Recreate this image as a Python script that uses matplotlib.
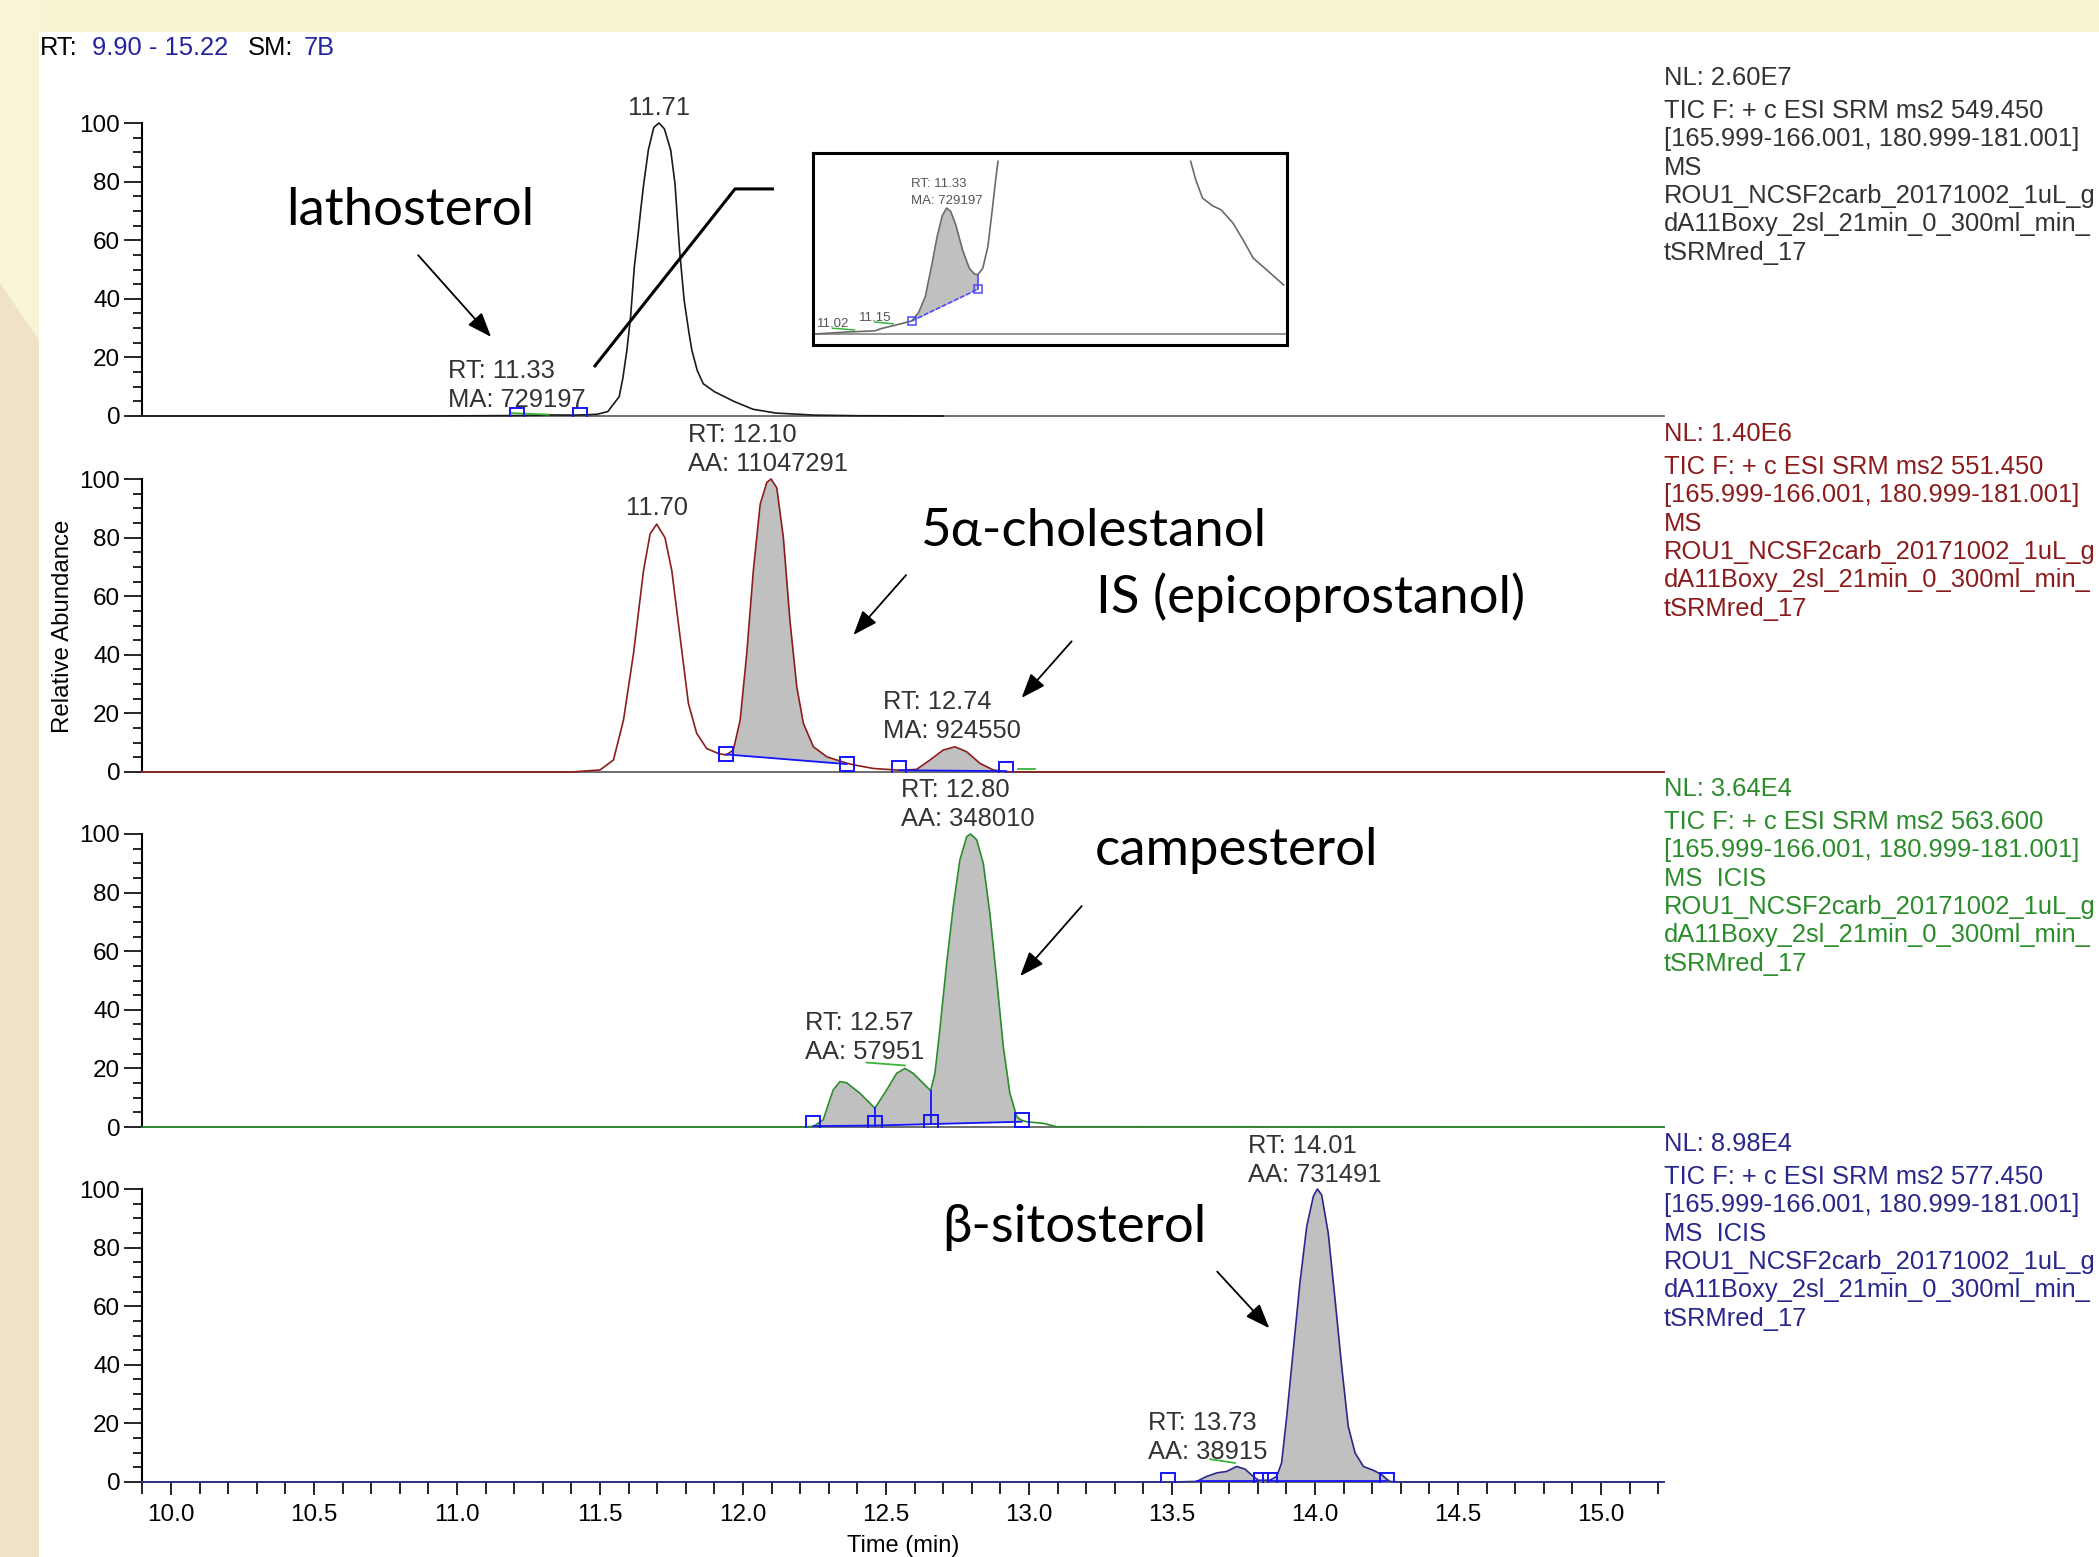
import numpy as np
import matplotlib.pyplot as plt
from matplotlib.patches import Polygon, Rectangle
from matplotlib.ticker import MultipleLocator, FormatStrFormatter

plt.rcParams['font.family'] = ['Liberation Sans', 'DejaVu Sans']
BIG_FONT = ['Lato', 'Open Sans', 'DejaVu Sans']

# ---- data (time in min, relative abundance in %) ----
x_range = (9.90, 15.22)
smoothing = '7B'

# lathosterol channel, m/z 549.450
lath_time = [9.90, 10.90, 11.00, 11.10, 11.20, 11.30, 11.33, 11.40, 11.45, 11.49, 11.527, 11.567,
             11.58, 11.594, 11.607, 11.62, 11.632, 11.643, 11.653, 11.669, 11.688, 11.706, 11.725,
             11.747, 11.762, 11.778, 11.794, 11.81, 11.821, 11.84, 11.861, 11.90, 11.97, 12.035,
             12.115, 12.25, 12.40, 12.70]
lath_int = [0, 0, 0.05, 0.1, 0.15, 0.3, 0.35, 0.3, 0.4, 0.6, 1.5, 6.6,
            13, 22.5, 34, 51, 61, 71, 79.4, 90.8, 98.5, 100, 98,
            90.8, 79.4, 56.7, 39.6, 29, 22.5, 15.5, 11, 8.3, 4.9, 2.3,
            1.0, 0.3, 0.1, 0]

# 5a-cholestanol / IS channel, m/z 551.450
chol_time = [9.90, 11.40, 11.50, 11.547, 11.582, 11.617, 11.652, 11.675, 11.698, 11.727,
             11.751, 11.78, 11.809, 11.838, 11.873, 11.914, 11.941, 11.966, 11.99, 12.013,
             12.036, 12.06, 12.083, 12.098, 12.118, 12.141, 12.164, 12.188, 12.211, 12.246,
             12.293, 12.362, 12.40, 12.456, 12.502, 12.547, 12.607, 12.654, 12.70, 12.741,
             12.782, 12.829, 12.875, 12.92, 13.0, 15.22]
chol_int = [0, 0, 0.7, 4.1, 17.7, 40.4, 68.7, 81.2, 84.6, 80,
            68.7, 46, 23.4, 13.2, 8.0, 6.3, 5.8, 7.5, 17.7, 40.4,
            68.7, 91.4, 98.8, 100, 97, 80, 51.7, 29, 16.6, 8.6,
            5.2, 3.0, 2.2, 1.2, 0.9, 0.6, 0.9, 4.1, 7.5, 8.6,
            6.9, 2.9, 0.7, 0.1, 0, 0]

# campesterol channel, m/z 563.600
camp_time = [9.90, 12.20, 12.246, 12.28, 12.315, 12.339, 12.362, 12.409, 12.461, 12.502,
             12.537, 12.566, 12.595, 12.624, 12.656, 12.671, 12.688, 12.712, 12.735, 12.758,
             12.782, 12.796, 12.817, 12.84, 12.863, 12.887, 12.91, 12.933, 12.957, 12.974,
             12.991, 13.05, 13.096, 15.22]
camp_int = [0, 0, 0.2, 2.4, 12.6, 15.5, 15.1, 11.5, 6.4, 12.6,
            18.3, 20, 18.3, 15.5, 12.4, 18.3, 33.1, 55.9, 75.2, 91.1,
            99.1, 100, 98, 90, 72.9, 50.2, 27.4, 11.5, 3.5, 2.3,
            1.8, 1.25, 0.1, 0]

# b-sitosterol channel, m/z 577.450
sito_time = [9.90, 13.50, 13.586, 13.621, 13.656, 13.691, 13.726, 13.755, 13.784, 13.802,
             13.842, 13.866, 13.883, 13.901, 13.924, 13.947, 13.971, 13.994, 14.008, 14.023,
             14.046, 14.07, 14.093, 14.116, 14.14, 14.169, 14.204, 14.233, 14.25, 14.262,
             14.30, 15.22]
sito_int = [0, 0, 0.2, 1.9, 3.1, 3.6, 5.3, 4.4, 1.9, 0.6,
            0.6, 1.9, 6.5, 22.4, 45.2, 67.9, 87.3, 97.5, 100, 98,
            85, 62.2, 39.5, 19, 9.9, 5.3, 4, 2.5, 1.0, 0.2,
            0, 0]

# integration: (start, end, baseline at start, baseline at end)
lath_areas = []
chol_areas = [(11.941, 12.362, 6.0, 2.7), (12.547, 12.92, 0.6, 0.3)]
camp_areas = [(12.246, 12.461, 0.3, 0.5), (12.461, 12.656, 0.5, 1.0), (12.656, 12.974, 1.0, 1.8)]
sito_areas = [(13.586, 13.802, 0.3, 0.3), (13.842, 14.25, 0.3, 0.3)]

# peak boundary markers
lath_bounds = ([11.21, 11.43], [0.3, 0.3])
chol_bounds = ([11.941, 12.362, 12.547, 12.92], [6.0, 2.7, 1.2, 1.0])
camp_bounds = ([12.246, 12.461, 12.656, 12.974], [1.2, 1.5, 1.8, 2.4])
sito_bounds = ([13.487, 13.811, 13.842, 14.25], [0.8, 0.8, 0.8, 0.8])

# peak drop lines (time, baseline, curve)
camp_drops = [(12.461, 0.5, 6.4), (12.656, 1.0, 12.4)]

# apex marks (green)
lath_apex = [(11.19, 11.32, 1.0, 0.5)]
chol_apex = [(12.963, 13.02, 1.0, 1.0)]
camp_apex = [(12.432, 12.566, 22.0, 21.0)]
sito_apex = [(13.633, 13.72, 7.8, 6.5)]

# peak annotations
lath_peaks = [('11.71',), ('RT: 11.33', 'MA: 729197')]
chol_peaks = [('11.70',), ('RT: 12.10', 'AA: 11047291'), ('RT: 12.74', 'MA: 924550')]
camp_peaks = [('RT: 12.80', 'AA: 348010'), ('RT: 12.57', 'AA: 57951')]
sito_peaks = [('RT: 14.01', 'AA: 731491'), ('RT: 13.73', 'AA: 38915')]

# scan header per channel
nl_values = ['2.60E7', '1.40E6', '3.64E4', '8.98E4']
precursors = ['549.450', '551.450', '563.600', '577.450']
scan_modes = ['MS', 'MS', 'MS  ICIS', 'MS  ICIS']
file_lines = ['[165.999-166.001, 180.999-181.001]', 'ROU1_NCSF2carb_20171002_1uL_g',
              'dA11Boxy_2sl_21min_0_300ml_min_', 'tSRMred_17']

compounds = ['lathosterol', '5\u03b1-cholestanol', 'IS (epicoprostanol)', 'campesterol', '\u03b2-sitosterol']

# zoomed inset of the lathosterol trace
inset_time_a = [10.942, 11.037, 11.117, 11.137, 11.177, 11.227, 11.247, 11.267, 11.287, 11.302,
                11.317, 11.33, 11.342, 11.357, 11.377, 11.397, 11.412, 11.422, 11.437, 11.452,
                11.465, 11.475, 11.482]
inset_int_a = [0, 1.1, 1.7, 3.0, 4.8, 7.2, 11.8, 20.7, 39.1, 53.9,
               65.3, 69.6, 67.7, 60.3, 46.5, 36.3, 33.2, 32.7, 36.3, 48.3,
               68.6, 85.2, 95.4]
inset_time_b = [12.052, 12.067, 12.087, 12.117, 12.142, 12.177, 12.207, 12.237, 12.277, 12.327]
inset_int_b = [95.4, 85.2, 75.1, 70.8, 68.6, 61.3, 52.0, 41.9, 35.4, 27.1]
inset_area = (11.227, 11.422, 7.2, 24.7)
inset_labels = ['11.02', '11.15', 'RT: 11.33', 'MA: 729197']

# ---- layout ----
W, H = 2099, 1557
def fx(px):
    return px / W
def fy(py):
    return 1 - py / H

BLUE = '#1414ff'
GREEN = '#3cb43c'
SHADE = '#c0c0c0'
LABEL = '#333333'
colors = ['#1a1a1a', '#8c1c1c', '#2a8c2a', '#28288c']
text_colors = ['#333333', '#8c1c1c', '#2a8c2a', '#28288c']

traces = [(lath_time, lath_int), (chol_time, chol_int), (camp_time, camp_int), (sito_time, sito_int)]
areas = [lath_areas, chol_areas, camp_areas, sito_areas]
bounds = [lath_bounds, chol_bounds, camp_bounds, sito_bounds]
apexes = [lath_apex, chol_apex, camp_apex, sito_apex]
peaks = [lath_peaks, chol_peaks, camp_peaks, sito_peaks]
# label anchor (time, baseline of first line, ha) for each annotation
peak_pos = [
    [(11.705, 102.7, 'center'), (10.968, 13.1, 'left')],
    [(11.698, 87.7, 'center'), (11.809, 112.7, 'left'), (12.491, 21.4, 'left')],
    [(12.554, 112.7, 'left'), (12.216, 33.1, 'left')],
    [(13.767, 112.2, 'left'), (13.417, 17.7, 'left')],
]
compound_pos = [(0, 10.401, 65.2), (1, 12.619, 77.1), (1, 13.234, 54.3), (2, 13.231, 89.4), (3, 12.698, 82.0)]
arrows = [(0, (10.864, 54.9), (11.119, 27.0)), (1, (12.57, 67.2), (12.386, 46.8)),
          (1, (13.149, 44.6), (12.974, 25.3)), (2, (13.184, 75.4), (12.969, 51.5)),
          (3, (13.658, 71.8), (13.84, 52.5))]

fig = plt.figure(figsize=(W / 100, H / 100), dpi=100)
fig.patch.set_facecolor('white')

# slide background around the pasted screenshot
fig.add_artist(Rectangle((0, fy(32)), 1, 32 / H, transform=fig.transFigure,
                         facecolor='#f7f3d3', edgecolor='none', zorder=-5))
fig.add_artist(Polygon([(0, 1), (fx(39), 1), (fx(39), fy(340)), (0, fy(283))], closed=True,
                       transform=fig.transFigure, facecolor='#f8f5d7', edgecolor='none', zorder=-5))
fig.add_artist(Polygon([(0, fy(283)), (fx(39), fy(340)), (fx(39), 0), (0, 0)], closed=True,
                       transform=fig.transFigure, facecolor='#f0e2c6', edgecolor='none', zorder=-5))

left, width = fx(142.4), (1664 - 142.4) / W
y0_px = [416, 772, 1127, 1482]
height = 293 / H

axes = []
for k in range(4):
    ax = fig.add_axes([left, fy(y0_px[k]), width, height])
    ax.patch.set_alpha(0)
    ax.set_xlim(*x_range)
    ax.set_ylim(0, 100)
    for s in ['top', 'right']:
        ax.spines[s].set_visible(False)
    ax.spines['left'].set_linewidth(1.5)
    ax.spines['left'].set_color('black')
    ax.spines['bottom'].set_linewidth(1.2)
    ax.spines['bottom'].set_color('#555555')
    ax.yaxis.set_major_locator(MultipleLocator(20))
    ax.yaxis.set_minor_locator(MultipleLocator(5))
    ax.tick_params(axis='y', which='major', length=13, width=1.2, labelsize=17.5, pad=3)
    ax.tick_params(axis='y', which='minor', length=6.5, width=1.2)
    if k < 3:
        ax.tick_params(axis='x', which='both', bottom=False, labelbottom=False)
    else:
        ax.xaxis.set_major_locator(MultipleLocator(0.5))
        ax.xaxis.set_minor_locator(MultipleLocator(0.1))
        ax.xaxis.set_major_formatter(FormatStrFormatter('%.1f'))
        ax.tick_params(axis='x', which='major', length=9, width=1.2, labelsize=17.5, pad=7)
        ax.tick_params(axis='x', which='minor', length=8.5, width=1.2)
        ax.set_xlabel('Time (min)', fontsize=17, labelpad=6)

    t, v = np.asarray(traces[k][0]), np.asarray(traces[k][1])
    for (t0, t1, b0, b1) in areas[k]:
        m = (t >= t0 - 1e-9) & (t <= t1 + 1e-9)
        base = np.interp(t[m], [t0, t1], [b0, b1])
        ax.fill_between(t[m], v[m], base, color=SHADE, lw=0, zorder=2)
        ax.plot([t0, t1], [b0, b1], color=BLUE, lw=1.3, zorder=3.5, clip_on=False)
    if k == 2:
        for (td, lo, hi) in camp_drops:
            ax.plot([td, td], [lo, hi], color=BLUE, lw=1.3, zorder=3.5)
    ax.plot(t, v, color=colors[k], lw=1.2, zorder=3, clip_on=False)
    for (a0, a1, h0, h1) in apexes[k]:
        ax.plot([a0, a1], [h0, h1], color=GREEN, lw=1.3, zorder=3.6)
    ax.plot(bounds[k][0], bounds[k][1], 's', mfc='none', mec=BLUE, ms=10.5, mew=1.4, zorder=4)

    for lines, (pt, pv, ha) in zip(peaks[k], peak_pos[k]):
        for j, line in enumerate(lines):
            ax.text(pt, pv - 9.9 * j, line, fontsize=18.4, color=LABEL, ha=ha, va='baseline',
                    zorder=5, clip_on=False)

    # scan header on the right
    tr = ax.get_yaxis_transform()
    c = text_colors[k]
    ax.text(1.0, 113.0, 'NL: ' + nl_values[k], transform=tr, fontsize=18.4, color=c,
            va='baseline', clip_on=False)
    info = ['TIC F: + c ESI SRM ms2 ' + precursors[k], file_lines[0], scan_modes[k]] + file_lines[1:]
    for j, line in enumerate(info):
        ax.text(1.0, 101.7 - 9.66 * j, line, transform=tr, fontsize=18.4, color=c,
                va='baseline', clip_on=False)
    axes.append(ax)

for name, (k, ct, cv) in zip(compounds, compound_pos):
    axes[k].text(ct, cv, name, fontsize=38, family=BIG_FONT, color='black', va='baseline',
                 zorder=6, clip_on=False)

for (k, start, end) in arrows:
    axes[k].annotate('', xy=end, xytext=start, annotation_clip=False,
                     arrowprops=dict(arrowstyle='-|>,head_length=1.0,head_width=0.38',
                                     mutation_scale=15, lw=1.3, color='black',
                                     shrinkA=0, shrinkB=0))

# leader line from the lathosterol peak to the inset
axes[0].plot([11.479, 11.972, 12.108], [16.7, 77.5, 77.5], color='black', lw=2.2,
             zorder=6, clip_on=False, solid_capstyle='butt')

# header
hy = fy(55)
fig.text(fx(40), hy, 'RT:', fontsize=18.4, color='black', va='baseline')
fig.text(fx(91.5), hy, '%.2f - %.2f' % x_range, fontsize=18.4, color='#2424a0', va='baseline')
fig.text(fx(247.8), hy, 'SM:', fontsize=18.4, color='black', va='baseline')
fig.text(fx(303.6), hy, smoothing, fontsize=18.4, color='#2424a0', va='baseline')

fig.text(fx(63), fy(626), 'Relative Abundance', rotation=90, ha='center', va='center', fontsize=17.3)

# inset
iax = fig.add_axes([fx(812.8), fy(345), (1287 - 812.8) / W, (345 - 153) / H])
iax.set_xlim(10.934, 12.337)
iax.set_ylim(-6.1, 100)
iax.set_xticks([])
iax.set_yticks([])
for s in iax.spines.values():
    s.set_linewidth(2.2)
    s.set_color('black')
iax.axhline(0, color='#8a8a8a', lw=1.3)
ta, va_ = np.asarray(inset_time_a), np.asarray(inset_int_a)
t0, t1, b0, b1 = inset_area
m = (ta >= t0 - 1e-9) & (ta <= t1 + 1e-9)
iax.fill_between(ta[m], va_[m], np.interp(ta[m], [t0, t1], [b0, b1]), color=SHADE, lw=0)
iax.plot([t0, t1], [b0, b1], color='#4a4aff', lw=1.2, ls=(0, (3, 1)))
iax.plot([t1, t1], [b1, 32.7], color='#4a4aff', lw=1.2)
iax.plot(ta, va_, color='#6a6a6a', lw=1.2)
iax.plot(inset_time_b, inset_int_b, color='#6a6a6a', lw=1.2)
iax.plot([t0, t1], [b0, b1], 's', mfc='none', mec='#4a4aff', ms=6, mew=1.1)
iax.plot([10.992, 11.057], [3.2, 2.2], color=GREEN, lw=1.1)
iax.plot([11.117, 11.172], [6.6, 5.6], color=GREEN, lw=1.1)
for txt, (lt, lv) in zip(inset_labels, [(10.947, 4.1), (11.072, 7.2), (11.225, 81.2), (11.225, 72.0)]):
    iax.text(lt, lv, txt, fontsize=9.5, color='#555555', va='baseline')

fig.savefig('out.png', dpi=100)
